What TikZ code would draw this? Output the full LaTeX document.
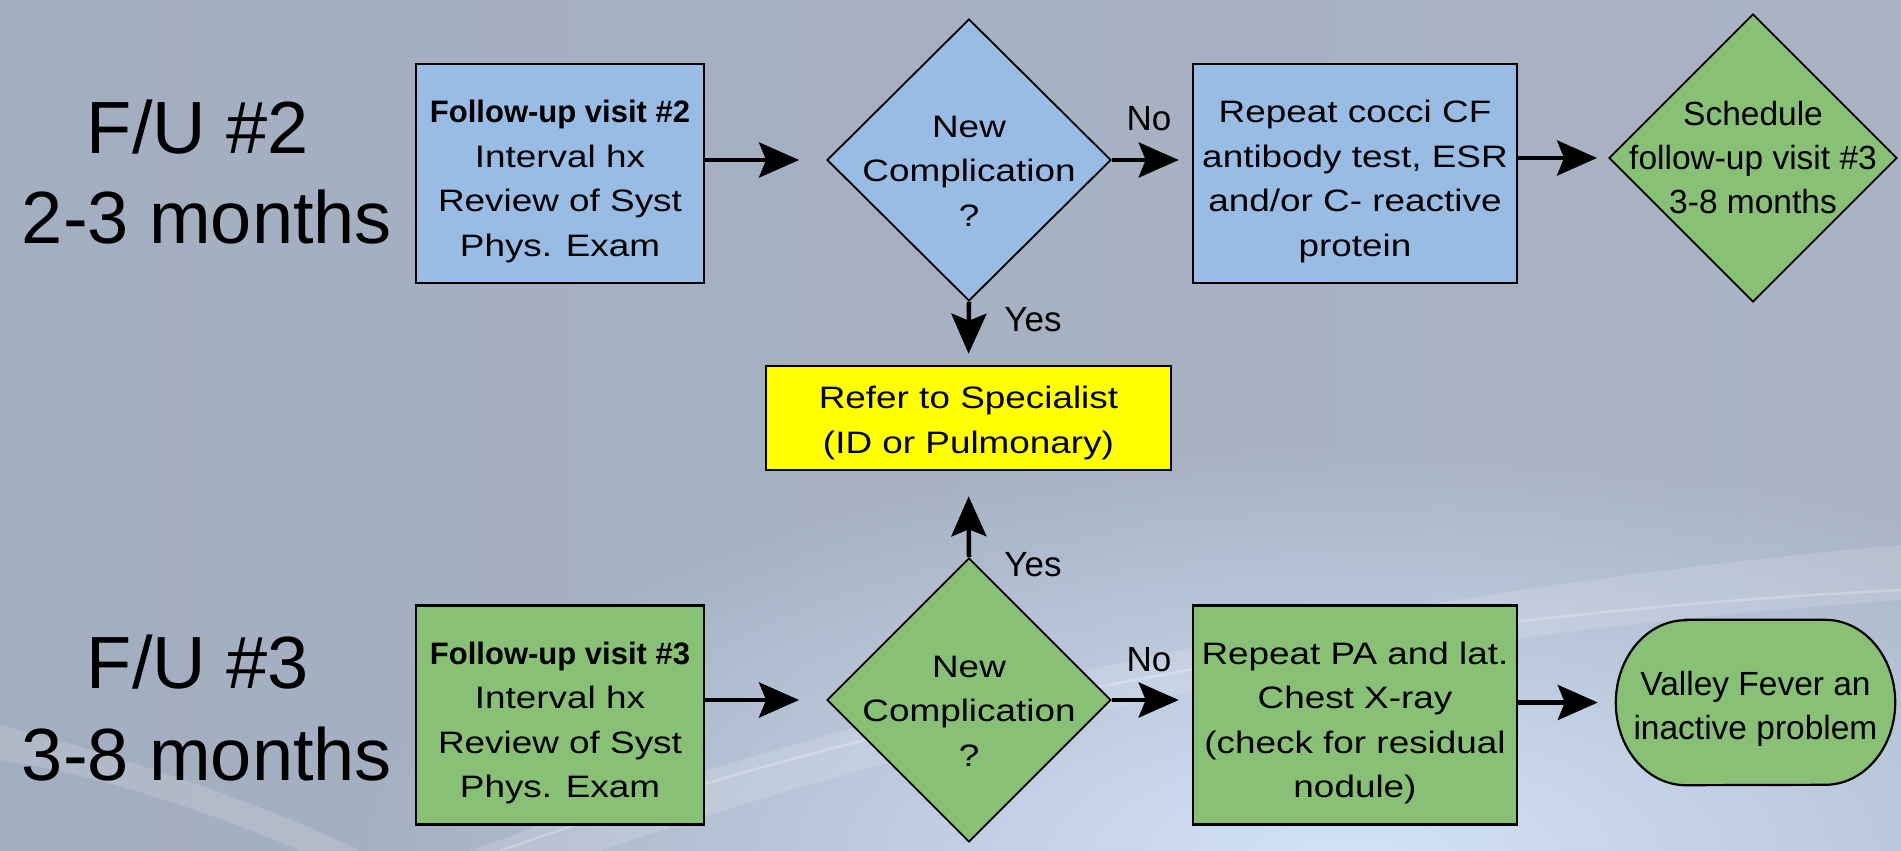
\documentclass[tikz,border=0pt]{standalone}
\usepackage{fontspec}
\setmainfont{Liberation Sans}
\newfontfamily\widesans{Liberation Sans}[FakeStretch=1.19]
\usetikzlibrary{shapes.geometric,arrows.meta,fadings}

\definecolor{bgL}{HTML}{A3AEC0}
\definecolor{bgM}{HTML}{BACAE1}
\definecolor{bgR}{HTML}{A9B3C4}
\definecolor{bgGlow}{HTML}{D3E3FA}
\definecolor{stepblue}{HTML}{98BCE4}
\definecolor{stepgreen}{HTML}{88C075}
\definecolor{refyellow}{HTML}{FFFF00}

\tikzfading[name=softspot, inner color=transparent!0, outer color=transparent!100]

\begin{document}
\begin{tikzpicture}[x=1pt,y=-1pt,
  body/.style={font=\widesans\fontsize{31}{44.5}\selectfont, align=center, text=black, inner sep=0pt},
  plain/.style={font=\fontsize{33.5}{44}\selectfont, align=center, text=black, inner sep=0pt},
  heading/.style={font=\fontsize{74}{90}\selectfont, text=black, inner sep=0pt, anchor=base},
  flag/.style={font=\fontsize{35}{44}\selectfont, text=black, inner sep=0pt},
  stepbox/.style={draw=black, line width=2.6pt, minimum height=219pt, inner sep=0pt},
  bluebox/.style={stepbox, fill=stepblue},
  greenbox/.style={stepbox, fill=stepgreen},
  decision/.style={diamond, draw=black, line width=1.8pt, inner sep=0pt},
  arr/.style={line width=4.5pt, -{Stealth[length=40pt, width=35pt, inset=7pt]}},
  termline/.style={draw=black, line width=2.2pt, fill=stepgreen}
]
\useasboundingbox (0,0) rectangle (1901,851);

% ---------- background ----------
\begin{scope}
  \clip (0,0) rectangle (1901,851);
  \shade[left color=bgL, middle color=bgM, right color=bgR] (0,0) rectangle (1901,851);
  \fill[bgGlow, path fading=softspot] (1350,860) ellipse [x radius=1000pt, y radius=420pt];
  % swoosh bands
  \fill[white, opacity=0.14] (470,851) .. controls (900,690) and (1400,590) .. (1901,545)
        -- (1901,600) .. controls (1400,635) and (980,720) .. (600,851) -- cycle;
  \draw[white, opacity=0.25, line width=2.5pt] (500,851) .. controls (920,700) and (1400,615) .. (1901,590);
  \fill[white, opacity=0.14] (0,725) .. controls (140,760) and (290,815) .. (360,851)
        -- (300,851) .. controls (220,815) and (100,775) .. (0,760) -- cycle;
\end{scope}

% ---------- row headings ----------
\node[heading] (h2a) at (198,153) {F/U \#2};
\node[heading] (h2b) at (207,243) {2-3 months};
\node[heading] (h3a) at (198,688) {F/U \#3};
\node[heading] (h3b) at (207,780) {3-8 months};

% ---------- follow-up visit #2 ----------
\node[bluebox, minimum width=288pt] (b1) at (560,173.5) {};
\node[body] (b1t) at ([yshift=-8pt]b1.center)
  {{\rmfamily\bfseries Follow-up visit \#2}\\Interval hx\\Review of Syst\\Phys. Exam};

\node[decision, fill=stepblue, minimum width=284pt, minimum height=282pt] (d1) at (969,160) {};
\node[body] (d1t) at ([yshift=-11pt]d1.center) {New\\Complication\\?};

\node[bluebox, minimum width=324pt] (b2) at (1355,173.5) {};
\node[body] (b2t) at ([yshift=-8pt]b2.center)
  {Repeat cocci CF\\antibody test, ESR\\and/or C- reactive\\protein};

\node[decision, fill=stepgreen, minimum width=288pt, minimum height=288pt] (d2) at (1753,158) {};
\node[plain] (d2t) at (d2.center) {Schedule\\follow-up visit \#3\\3-8 months};

% ---------- referral ----------
\node[draw=black, line width=2.6pt, fill=refyellow, minimum width=405pt, minimum height=104pt, inner sep=0pt] (ref) at (968.5,418) {};
\node[body] (reft) at ([yshift=-5pt]ref.center) {Refer to Specialist\\(ID or Pulmonary)};

% ---------- follow-up visit #3 ----------
\node[greenbox, minimum width=288pt] (b3) at (560,715) {};
\node[body] (b3t) at ([yshift=-8pt]b3.center)
  {{\rmfamily\bfseries Follow-up visit \#3}\\Interval hx\\Review of Syst\\Phys. Exam};

\node[decision, fill=stepgreen, minimum width=284pt, minimum height=284pt] (d3) at (969,700) {};
\node[body] (d3t) at ([yshift=-11pt]d3.center) {New\\Complication\\?};

\node[greenbox, minimum width=324pt] (b4) at (1355,715) {};
\node[body] (b4t) at ([yshift=-8pt]b4.center)
  {Repeat PA and lat.\\Chest X-ray\\(check for residual\\nodule)};

% terminal with elliptic ends
\node[minimum width=279pt, minimum height=165pt, inner sep=0pt] (vf) at (1755.5,702.5) {};
\draw[termline] ([xshift=70pt]vf.north west) -- ([xshift=-70pt]vf.north east)
  arc[start angle=90, end angle=-90, x radius=70pt, y radius=82.5pt]
  -- ([xshift=70pt]vf.south west)
  arc[start angle=-90, end angle=-270, x radius=70pt, y radius=82.5pt] -- cycle;
\node[plain] (vft) at ([yshift=-6pt]vf.center) {Valley Fever an\\inactive problem};

% ---------- connectors ----------
\draw[arr, shorten >=27pt] (b1.east |- d1.west) -- (d1.west);
\draw[arr, shorten >=13pt] (d1.east) -- (d1.east -| b2.west);
\draw[arr, shorten >=11pt] (b2.east |- d2.west) -- (d2.west);
\draw[arr, shorten >=11pt] (d1.south) -- (ref.north);
\draw[arr, shorten >=25pt] (d3.north) -- (ref.south);
\draw[arr, shorten >=27pt] (b3.east |- d3.west) -- (d3.west);
\draw[arr, shorten >=13pt] (d3.east) -- (d3.east -| b4.west);
\draw[arr, shorten >=18pt] (b4.east |- vf.west) -- (vf.west);

% ---------- branch labels ----------
\node[flag] (no1) at (1149,119) {No};
\node[flag] (yes1) at (1033,320) {Yes};
\node[flag] (yes2) at (1033,565) {Yes};
\node[flag] (no2) at (1149,660) {No};
\end{tikzpicture}
\end{document}
